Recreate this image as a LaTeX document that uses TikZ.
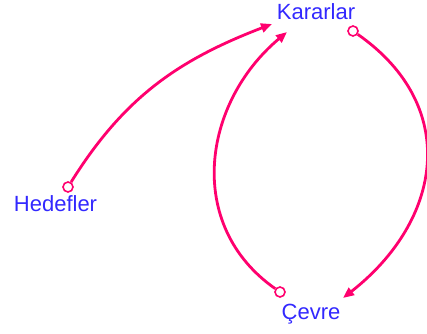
\documentclass[tikz,border=0pt]{standalone}
\usepackage{fontspec}
\setmainfont{Liberation Sans}
\usetikzlibrary{arrows.meta,positioning}
\definecolor{rose}{RGB}{255,0,110}
\definecolor{indigo}{RGB}{50,40,255}
\tikzset{
  >={Triangle[length=11pt,width=9pt]},
  var/.style={text=indigo,inner sep=0pt,font=\fontsize{22}{24}\selectfont,anchor=base},
  tail/.style={circle,draw=rose,line width=1.6pt,minimum size=10pt,inner sep=0pt},
  link/.style={->,draw=rose,line width=2.8pt},
}
\begin{document}
\begin{tikzpicture}[x=1pt,y=1pt]
  \useasboundingbox (0,0) rectangle (427,333);
  \clip (0,0) rectangle (427,333);
  % variables
  \node[var] (kar) at (316,313) {Kararlar};
  \node[var] (hed) at (55.5,122) {Hedefler};
  \node[var] (cev) at (311,14) {Çevre};
  % link tails and heads
  \node[tail] (hed-o) at ([shift={(12.5,24)}]hed.base) {};
  \node[tail] (kar-o) at ([shift={(37,-11)}]kar.base) {};
  \node[tail] (cev-o) at ([shift={(-31,27)}]cev.base) {};
  \coordinate (kar-a) at ([shift={(-44,-4)}]kar.base);
  \coordinate (kar-b) at ([shift={(-29,-12)}]kar.base);
  \coordinate (cev-a) at ([shift={(32,21)}]cev.base);
  % links
  \draw[link] (hed-o) to[out=58,in=201] (kar-a);
  \draw[link] (cev-o) to[out=145,in=220,looseness=1.1] (kar-b);
  \draw[link] (kar-o) to[out=-35,in=38,looseness=1.22] (cev-a);
\end{tikzpicture}
\end{document}
